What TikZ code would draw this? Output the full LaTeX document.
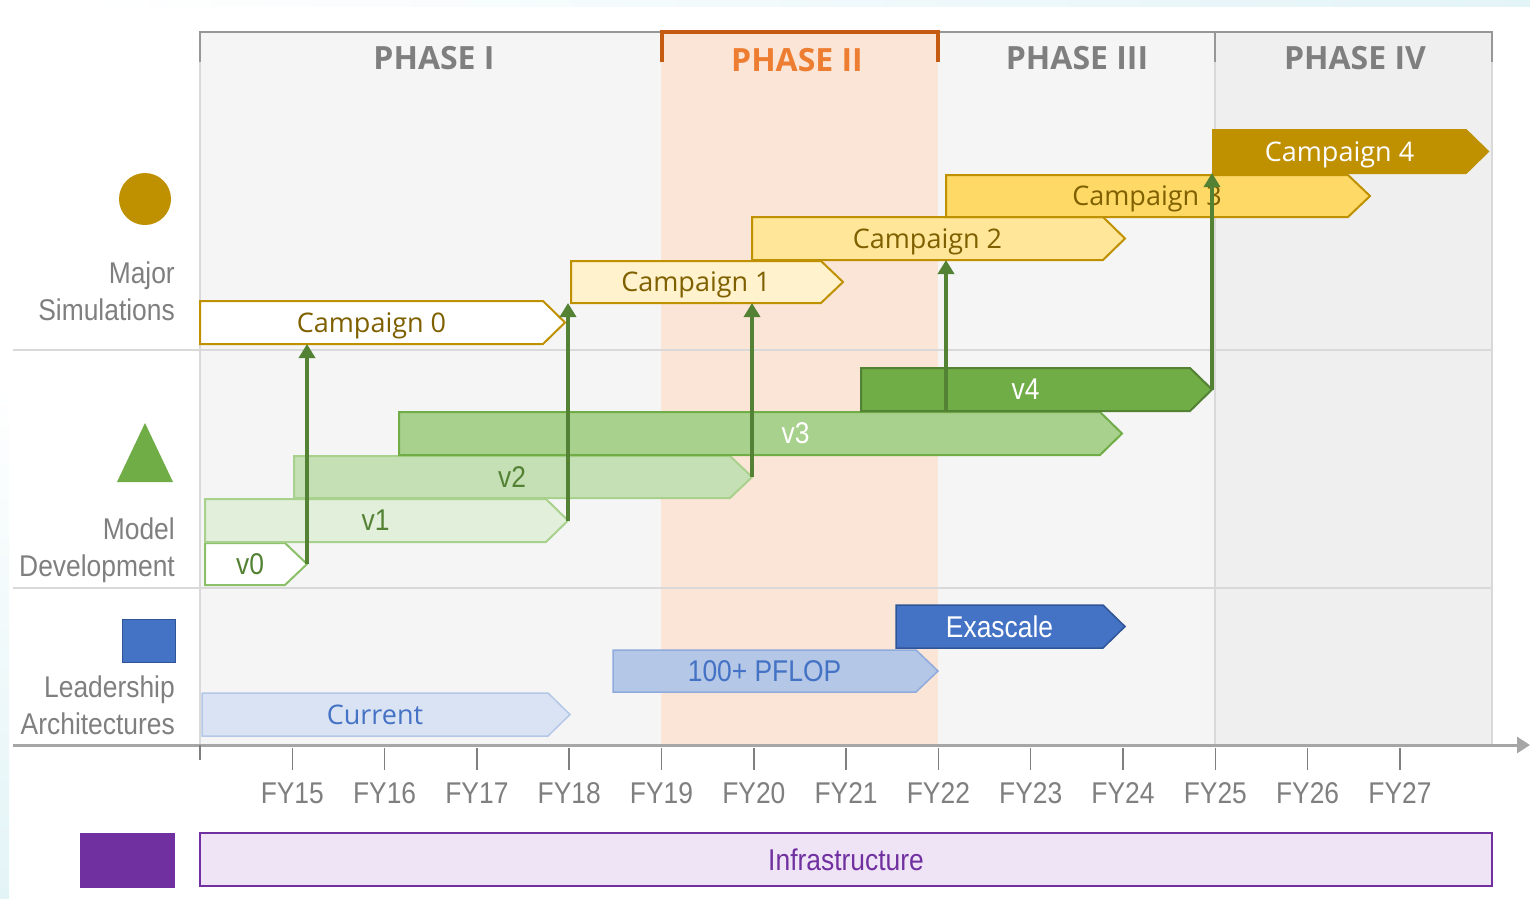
\documentclass[tikz,border=0pt]{standalone}
\usepackage{fontspec}
\setmainfont{Open Sans}
\newfontfamily\narrowfont[FakeStretch=0.88]{Liberation Sans}
\usetikzlibrary{arrows.meta,calc}

\definecolor{gold}{HTML}{BF9000}
\definecolor{camptext}{HTML}{7F6000}
\definecolor{camplight}{HTML}{FFF2CC}
\definecolor{campmid}{HTML}{FFE699}
\definecolor{campdeep}{HTML}{FFD966}
\definecolor{leafdark}{HTML}{548235}
\definecolor{leaf}{HTML}{70AD47}
\definecolor{leafmid}{HTML}{8CC068}
\definecolor{leaflight}{HTML}{A9D18E}
\definecolor{leafpale}{HTML}{C5E0B4}
\definecolor{leafwhite}{HTML}{E2EFDA}
\definecolor{steel}{HTML}{4472C4}
\definecolor{archnavy}{HTML}{2F5597}
\definecolor{skyline}{HTML}{B4C7E7}
\definecolor{skymid}{HTML}{8FAADC}
\definecolor{skypale}{HTML}{DAE3F3}
\definecolor{grape}{HTML}{7030A0}
\definecolor{lavender}{HTML}{EFE3F6}
\definecolor{chartbg}{HTML}{F5F5F5}
\definecolor{peach}{HTML}{FBE5D6}
\definecolor{phasefour}{HTML}{EFEFEF}
\definecolor{gridgray}{HTML}{D9D9D9}
\definecolor{framegray}{HTML}{979797}
\definecolor{axisgray}{HTML}{A6A6A6}
\definecolor{phasegray}{HTML}{7F7F7F}
\definecolor{phaseorange}{HTML}{ED7D31}
\definecolor{bracketorange}{HTML}{C55A11}
\definecolor{edgecyan}{HTML}{E3F4F7}

% arrow shaped bar: [style](name)(x1,y1:x2,y2){text}, body corners, tip 22 to the right
\def\roadbar[#1](#2)(#3,#4:#5,#6)#7{%
  \def\barshift{0}%
  \pgfmathsetmacro\barw{#5-#3}%
  \pgfmathsetmacro\barh{#6-#4}%
  \node[inner sep=0pt, outer sep=0pt, minimum width=\barw pt, minimum height=\barh pt] (#2) at ({(#3+#5)/2},{(#4+#6)/2}) {};
  \coordinate (#2-tip) at ([xshift=22pt]#2.east);
  \draw[#1, line join=miter] (#2.north west) -- (#2.north east) -- (#2-tip) -- (#2.south east) -- (#2.south west) -- cycle;
  \node[#1, draw=none, fill=none, inner sep=0pt, text depth=0pt, xshift=\barshift pt] (#2-text) at (#2) {#7};}

\tikzset{
  barshift/.store in=\barshift,
  camp/.style={draw=gold, line width=2pt, text=camptext, font=\fontsize{27}{32}\selectfont},
  camp0/.style={camp, fill=white},
  camp1/.style={camp, fill=camplight},
  camp2/.style={camp, fill=campmid},
  camp3/.style={camp, fill=campdeep},
  camp4/.style={camp, fill=gold, text=white},
  model/.style={line width=2pt, text=leafdark, font=\narrowfont\fontsize{30}{36}\selectfont},
  model0/.style={model, draw=leafmid, fill=white, barshift=5},
  model1/.style={model, draw=leaflight, fill=leafwhite},
  model2/.style={model, draw=leaflight, fill=leafpale},
  model3/.style={model, draw=leaf, fill=leaflight, text=white, barshift=46},
  model4/.style={model, draw=leafdark, fill=leaf, text=white},
  arch/.style={line width=1.5pt},
  arch1/.style={arch, draw=skyline, fill=skypale, text=steel, font=\fontsize{27}{32}\selectfont},
  arch2/.style={arch, draw=skymid, fill=skyline, text=steel, font=\narrowfont\fontsize{30}{36}\selectfont},
  arch3/.style={arch, draw=archnavy, fill=steel, text=white, font=\narrowfont\fontsize{30}{36}\selectfont},
  feedarrow/.style={draw=leafdark, line width=3.5pt, -{Triangle[width=16pt,length=14pt]}},
  gridline/.style={draw=gridgray, line width=2pt},
  chartframe/.style={draw=framegray, line width=2.5pt},
  bracket/.style={draw=bracketorange, line width=4.5pt},
  phaselabel/.style={text=phasegray, font=\bfseries\fontsize{32}{38}\selectfont},
  sidelabel/.style={anchor=east, align=right, inner sep=0pt, text=phasegray, font=\narrowfont\fontsize{30}{37}\selectfont},
  yearlabel/.style={text=phasegray, font=\narrowfont\fontsize{30}{36}\selectfont},
}

\begin{document}
\begin{tikzpicture}[x=1pt,y=-1pt]
\useasboundingbox (0,0) rectangle (1530,898);

% faint edges
\shade[left color=white, right color=edgecyan] (80,0) rectangle (1530,6);
\shade[top color=white, bottom color=edgecyan] (0,380) rectangle (9,898);

% phase panels
\fill[chartbg] (200,32) rectangle (1492,745);
\fill[peach] (661,32) rectangle (938,745);
\fill[phasefour] (1215,32) rectangle (1492,745);

\draw[gridline] (200,62) -- (200,745);
\draw[gridline] (1215,62) -- (1215,745);
\draw[gridline] (1492,62) -- (1492,745);
\draw[gridline] (13,350) -- (1492,350);
\draw[gridline] (13,588) -- (1492,588);

\draw[chartframe] (200,62) -- (200,32) -- (1492,32) -- (1492,62);
\draw[chartframe] (1215,32) -- (1215,62);
\draw[bracket] (662,62) -- (662,32) -- (938,32) -- (938,62);

\node[phaselabel] (ph1) at (434,58) {PHASE I};
\node[phaselabel, text=phaseorange] (ph2) at (797,60) {PHASE II};
\node[phaselabel] (ph3) at (1077,58) {PHASE III};
\node[phaselabel] (ph4) at (1355,58) {PHASE IV};

% row icons and names
\node[circle, fill=gold, minimum size=52pt, inner sep=0pt] (simicon) at (145,199) {};
\fill[leaf] (145,423) -- (173,482) -- (117,482) -- cycle;
\node[draw=archnavy, line width=1pt, fill=steel, minimum width=53pt, minimum height=43pt, inner sep=0pt] (archicon) at (148.5,640.5) {};
\node[fill=grape, minimum width=95pt, minimum height=55pt, inner sep=0pt] (infraicon) at (127.5,860.5) {};

\node[sidelabel] (simlabel) at (175,291) {Major\\Simulations};
\node[sidelabel] (modellabel) at (175,550) {Model\\Development};
\node[sidelabel] (archlabel) at (175,705) {Leadership\\Architectures};

% campaigns
\roadbar[camp0](c0)(200,301:543,344){Campaign 0}
\roadbar[camp1](c1)(571,261:821,303){Campaign 1}
\roadbar[camp2](c2)(752,217:1103,260){Campaign 2}
\roadbar[camp3](c3)(946,175:1348,217){Campaign 3}
\roadbar[camp4](c4)(1213,130:1466,173){Campaign 4}

% model versions
\roadbar[model0](v0)(205,543:285,585){v0}
\roadbar[model1](v1)(205,499:546,542){v1}
\roadbar[model2](v2)(294,456:730,498){v2}
\roadbar[model3](v3)(399,412:1100,455){v3}
\roadbar[model4](v4)(861,368:1190,411){v4}

% machines
\roadbar[arch1](cur)(202,693:548,736){Current}
\roadbar[arch2](pflop)(613,650:916,692){100+ PFLOP}
\roadbar[arch3](exa)(896,605:1103,648){Exascale}

% time axis
\draw[draw=axisgray, line width=3pt, -{Triangle[width=16pt,length=13pt]}] (13,745) -- (1530,745);
\draw[draw=phasegray, line width=1.5pt] (200,745) -- (200,760);
\foreach \k in {1,...,13}{
  \pgfmathtruncatemacro\fy{14+\k}
  \draw[draw=phasegray, line width=1.5pt] ({200+92.3*\k},748) -- ++(0,22);
  \node[yearlabel] (fy\fy) at ({200+92.3*\k},793) {FY\fy};
}

\node[draw=grape, line width=2pt, fill=lavender, minimum width=1292pt, minimum height=53pt, inner sep=0pt, text=grape, font=\narrowfont\fontsize{30}{36}\selectfont] (infra) at (846,859.5) {Infrastructure};

% versions feeding campaigns
\draw[feedarrow] (v0-tip) -- (v0-tip |- c0.south);
\draw[feedarrow] (v1-tip) -- (v1-tip |- c1.south);
\draw[feedarrow] (v2-tip) -- (v2-tip |- c1.south);
\draw[feedarrow] (v4.south -| c3.west) -- (c2.south -| c3.west);
\draw[feedarrow] (v4-tip) -- (v4-tip |- c4.south);
\end{tikzpicture}
\end{document}
